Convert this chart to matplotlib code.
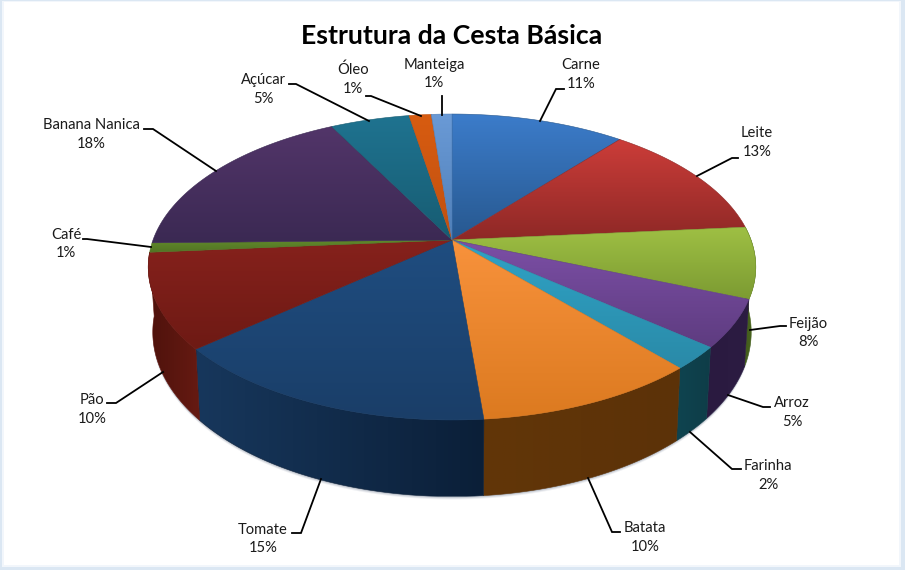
"""Estrutura da Cesta Basica: 3D pie drawn on a pixel-sized axes."""
import matplotlib
matplotlib.use("Agg")
import matplotlib.pyplot as plt
import numpy as np
from matplotlib.colors import LinearSegmentedColormap
from matplotlib.patches import Polygon, Rectangle

plt.rcParams["font.family"] = ["Lato", "DejaVu Sans"]

TITLE = "Estrutura da Cesta Básica"
ITEMS = ["Carne", "Leite", "Feijão", "Arroz", "Farinha", "Batata", "Tomate",
         "Pão", "Café", "Banana Nanica", "Açúcar", "Óleo", "Manteiga"]
# slice sizes; labels show them rounded
VALUES = [11.0, 12.6, 7.5, 5.0, 2.4, 10.1, 15.1, 10.0, 1.0, 17.6, 5.0, 1.4, 1.3]

# top face colours: (upper, lower)
TOP_COLORS = [
    ("#3c7cca", "#27588f"), ("#cc3d39", "#8e2826"), ("#9fc044", "#7c9b32"),
    ("#7c4fa6", "#5e3c80"), ("#2fa3c6", "#2a8aa8"), ("#f8923c", "#dc7a20"),
    ("#1f4d80", "#1a3e68"), ("#86211c", "#6e1a14"), ("#628a2c", "#527524"),
    ("#523569", "#3b2953"), ("#1f7390", "#175c72"), ("#d85c10", "#c05010"),
    ("#6a9ad6", "#4f7fb8"),
]
# side colours: (left end, right end)
SIDE_COLORS = {
    2: ("#3d541a", "#4e6a20"), 3: ("#2a1a40", "#2c1c42"), 4: ("#0f4450", "#0e3d48"),
    5: ("#623608", "#5c3208"), 6: ("#17375c", "#0b1f38"), 7: ("#4e120c", "#661a12"),
}

# label centre and leader line, in pixels of the 905x570 picture
LABEL_POS = [(581, 74.5), (757, 142.5), (808, 333), (792, 412.5), (768, 475.5),
             (645, 537.5), (263, 539), (92, 409.5), (66, 244), (91, 134.5),
             (263, 89.5), (353, 79.5), (434, 74)]
LEADERS = [
    [(540, 121), (556, 89), (564, 89)],
    [(697, 176), (732, 158), (738, 158)],
    [(750, 330), (780, 326), (786, 326)],
    [(728, 395), (763, 407), (770, 407)],
    [(690, 432), (732, 469), (741, 469)],
    [(588, 478), (612, 532), (620, 532)],
    [(321, 479), (301, 533), (292, 533)],
    [(163, 372), (116, 403), (107, 403)],
    [(151, 247), (87, 239), (83, 239)],
    [(216, 171), (153, 129), (144, 129)],
    [(369, 121), (296, 84), (289, 84)],
    [(421, 116), (371, 96), (366, 96)],
    [(442, 115), (442, 96)],
]

CX, CY = 452, 240
RX, RY, PERSP, DEPTH, SHRINK = 299, 148.2, 0.1765, 63, 0.985


def project(theta, lower=False):
    """Clockwise angle from 12 o'clock to pixel position on the tilted disc."""
    u, v = np.sin(theta), np.cos(theta)
    d = 1 + PERSP * v
    x, y = RX * u / d, -RY * v / d
    if lower:
        x, y = x * SHRINK, y + DEPTH / d
    return CX + x, CY + y


def gradient_fill(ax, verts, c0, c1, horizontal=False, zorder=2):
    verts = np.asarray(verts)
    cmap = LinearSegmentedColormap.from_list("g", [c0, c1])
    x0, y0 = verts.min(axis=0)
    x1, y1 = verts.max(axis=0)
    grad = np.linspace(0, 1, 128)
    grad = grad[None, :] if horizontal else grad[:, None]
    im = ax.imshow(grad, cmap=cmap, extent=(x0, x1, y1, y0), aspect="auto",
                   interpolation="bilinear", zorder=zorder)
    clip = Polygon(verts, closed=True, transform=ax.transData, fc="none", ec="none")
    ax.add_patch(clip)
    im.set_clip_path(clip)
    # thin same-coloured edge hides the seams between slices
    ax.add_patch(Polygon(verts, closed=True, fc="none", ec=c1, lw=0.4, zorder=zorder))


fig = plt.figure(figsize=(9.05, 5.7), dpi=100)
ax = fig.add_axes([0, 0, 1, 1])
ax.set_xlim(0, 905)
ax.set_ylim(570, 0)
ax.axis("off")

# pale blue frame of the picture
ax.add_patch(Rectangle((0, 0), 905, 570, fc="#dbe7f3", ec="none", zorder=0))
ax.add_patch(Rectangle((2, 1), 899, 566, fc="#f2f6fb", ec="none", zorder=0))
ax.add_patch(Rectangle((4, 2), 895, 563, fc="white", ec="none", zorder=0))

cum = np.cumsum([0] + VALUES) / sum(VALUES) * 2 * np.pi

# soft shadow under the rim
full = np.linspace(np.pi / 2, 3 * np.pi / 2, 200)
sx, sy = project(full, lower=True)
for off, alpha in [(3, 0.10), (2, 0.16), (1, 0.25)]:
    ax.fill(sx, sy + off, color="#5a6a80", alpha=alpha, lw=0, zorder=1)

# rim: only the front part (towards the viewer) is visible
for i, (a, b) in enumerate(zip(cum[:-1], cum[1:])):
    if i not in SIDE_COLORS:
        continue
    t = np.linspace(a, b, 80)
    xt, yt = project(t)
    xb, yb = project(t, lower=True)
    verts = np.r_[np.c_[xt, yt], np.c_[xb, yb][::-1]]
    gradient_fill(ax, verts, *SIDE_COLORS[i], horizontal=True, zorder=2)

# top faces
for i, (a, b) in enumerate(zip(cum[:-1], cum[1:])):
    t = np.linspace(a, b, 80)
    xt, yt = project(t)
    verts = np.r_[[[CX, CY]], np.c_[xt, yt]]
    gradient_fill(ax, verts, *TOP_COLORS[i], zorder=3)

for line in LEADERS:
    xs, ys = zip(*line)
    ax.plot(xs, ys, color="black", lw=1.3, solid_joinstyle="miter", zorder=4)

for name, val, (x, y) in zip(ITEMS, VALUES, LABEL_POS):
    ax.text(x, y, f"{name}\n{val:.0f}%", ha="center", va="center", fontsize=10.6,
            color="#1a1a1a", linespacing=1.45, zorder=5)

ax.text(452, 36, TITLE, ha="center", va="center", fontsize=19.2,
        fontweight="bold", color="black", zorder=5)

ax.set_xlim(0, 905)
ax.set_ylim(570, 0)
fig.savefig("out.png", dpi=100)
